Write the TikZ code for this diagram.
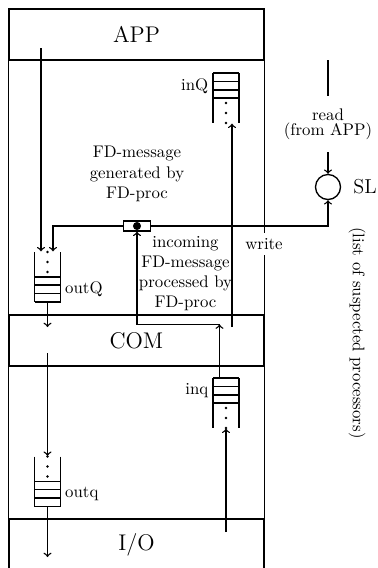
\documentclass[tikz,border=0pt]{standalone}
\usetikzlibrary{positioning, calc}

\begin{document}
\begin{tikzpicture}[x=0.595pt, y=-0.595pt, thick,
    layer/.style={rectangle, draw, minimum width=151.7pt, minimum height=30.35pt, font=\fontsize{13.5}{16}\selectfont},
    queue/.style={rectangle, minimum width=15.5pt, minimum height=29.75pt, inner sep=0pt},
    qlabel/.style={inner xsep=2pt},
    arrow/.style={->},
    qtop/.pic={
      \draw (-13,-25) -- (-13,25) (13,-25) -- (13,25);
      \foreach \y in {-25,-16.5,-8,0} \draw (-13,\y) -- (13,\y);
      \foreach \y in {5,15,25} \fill (0,\y) circle (0.8pt);
    },
    qbot/.pic={
      \draw (-13,-25) -- (-13,25) (13,-25) -- (13,25);
      \foreach \y in {25,16.5,8,0} \draw (-13,\y) -- (13,\y);
      \foreach \y in {-5,-15,-25} \fill (0,\y) circle (0.8pt);
    }
]
\useasboundingbox (0,0) rectangle (377,568);

% layers
\node[layer] (app) at (136.5,34.5)  {APP};
\node[layer] (com) at (136.5,340.5) {COM};
\node[layer] (io)  at (136.5,544.5) {I/O};
\draw (app.south west) -- (com.north west) (app.south east) -- (com.north east)
      (com.south west) -- (io.north west)  (com.south east) -- (io.north east);

% queues
\node[queue] (inQ)  at (226,98)     {};
\node[queue] (outQ) at (47.5,277)   {};
\node[queue] (inq)  at (226,403)    {};
\node[queue] (outq) at (47.5,481.5) {};
\pic at (inQ)  {qtop};
\pic at (inq)  {qtop};
\pic at (outQ) {qbot};
\pic at (outq) {qbot};
\node[qlabel, anchor=north east] (inQlab)  at (inQ.north west)  {inQ};
\node[qlabel, anchor=north east] (inqlab)  at (inq.north west)  {inq};
\node[qlabel, anchor=south west] (outQlab) at (outQ.south east) {outQ};
\node[qlabel, anchor=south west] (outqlab) at (outq.south east) {outq};

% failure detector
\node[rectangle, draw, minimum width=16pt, minimum height=6pt, inner sep=0pt] (fd) at (137,226) {};
\fill (fd) circle (2.4pt);
\node[circle, draw, minimum size=14.9pt, inner sep=0pt] (sl) at (328,187) {};
\node[right=3.5pt of sl, font=\large] (sllab) {SL};
\node[rotate=-90] (suspect) at (357,333) {(list of suspected processors)};

\node[align=center] (gen)  at (137,174)   {FD-message\\generated by\\FD-proc};
\node[align=center] (proc) at (185.5,273.5) {incoming\\FD-message\\processed by\\FD-proc};
\node[align=center, inner ysep=7.3pt] (readlab) at (328,124) {read\\[-3pt](from APP)};

\coordinate (appout) at (41,48);
\coordinate (comdn)  at (47.5,327);
\coordinate (comout) at (47.5,353);
\coordinate (iodn)   at (47.5,557);
\coordinate (comup)  at (232,327);
\coordinate (turn)   at (219.5,324.5);
\coordinate (ioup)   at (226,532);
\coordinate (rd)     at (328,60);

% outgoing
\draw[arrow] (appout) -- (appout |- outQ.north);
\draw[arrow] (fd) -| ($(outQ.north)+(5.5,0)$);
\draw[arrow] (outQ.south) -- (comdn);
\draw[arrow] (comout) -- (outq.north);
\draw[arrow] (outq.south) -- (iodn);

% incoming
\draw[arrow] (ioup) -- (inq.south);
\draw[arrow] (turn |- inq.north) -- (turn);
\draw[arrow] (turn) -| (fd);
\draw[arrow] (comup) -- (comup |- inQ.south);

% suspect list
\draw[arrow] (fd) -| (sl);
\draw (rd) -- (readlab);
\draw[arrow] (readlab) -- (sl);
\node[fill=white] (write) at (264,244) {write};
\end{tikzpicture}
\end{document}
